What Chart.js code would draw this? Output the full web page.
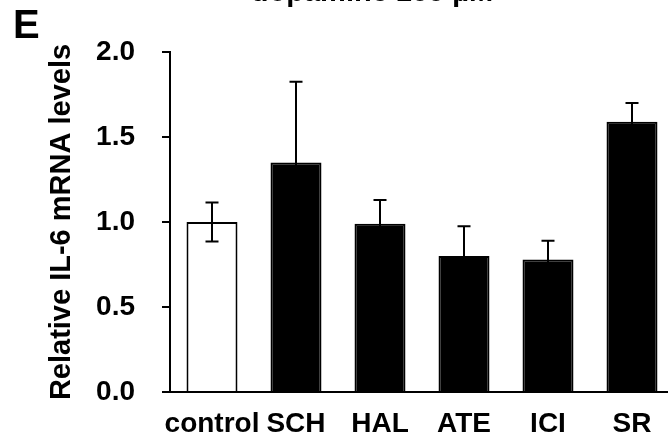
<!DOCTYPE html>
<html>
<head>
<meta charset="utf-8">
<script src="https://cdn.jsdelivr.net/npm/chart.js@4"></script>
<style>
  html, body { margin: 0; padding: 0; background: #fff; overflow: hidden; }
  canvas { display: block; }
</style>
</head>
<body>
<canvas id="plot1" width="744" height="446"></canvas>
<script>
const categories = ["control", "SCH", "HAL", "ATE", "ICI", "SR"];
const means = [1.00, 1.35, 0.99, 0.80, 0.78, 1.59];
const errors = [0.115, 0.475, 0.14, 0.175, 0.11, 0.11];
const fills = ["#ffffff", "#000000", "#000000", "#000000", "#000000", "#000000"];
const yTicks = [0, 0.5, 1.0, 1.5, 2.0];

const fontFamily = "'Liberation Sans', Arial, Helvetica, sans-serif";

// error bars drawn on top of the bars
const errorBars = {
    id: "errorBars",
    afterDatasetsDraw(chart) {
        const ctx = chart.ctx;
        const y = chart.scales.y;
        const meta = chart.getDatasetMeta(0);
        ctx.save();
        ctx.strokeStyle = "#000";
        ctx.lineWidth = 2;
        meta.data.forEach((bar, i) => {
            const top = y.getPixelForValue(means[i] + errors[i]);
            const bottom = y.getPixelForValue(means[i] - errors[i]);
            ctx.beginPath();
            ctx.moveTo(bar.x, top);
            ctx.lineTo(bar.x, bottom);
            ctx.moveTo(bar.x - 6.5, top);
            ctx.lineTo(bar.x + 6.5, top);
            ctx.moveTo(bar.x - 6.5, bottom);
            ctx.lineTo(bar.x + 6.5, bottom);
            ctx.stroke();
        });
        ctx.restore();
    }
};

// panel letter and the (cut off) title
const decor = {
    id: "decor",
    afterDraw(chart) {
        const ctx = chart.ctx;
        ctx.save();
        ctx.fillStyle = "#000";
        ctx.textBaseline = "alphabetic";
        ctx.font = "bold 40px " + fontFamily;
        ctx.textAlign = "left";
        ctx.fillText("E", 13, 38);
        ctx.font = "bold 29px " + fontFamily;
        ctx.textAlign = "center";
        ctx.fillText("dopamine 100 µM", 372, 1);
        ctx.restore();
    }
};

const chart = new Chart(document.getElementById("plot1"), {
    type: "bar",
    data: {
        labels: categories,
        datasets: [
            {
                data: means,
                backgroundColor: fills,
                borderColor: "#000",
                borderWidth: 2,
                borderSkipped: "bottom",
                barPercentage: 0.607,
                categoryPercentage: 1.0
            }
        ]
    },
    options: {
        responsive: false,
        animation: false,
        devicePixelRatio: 1,
        layout: {
            padding: { left: 0, top: 52, right: 70, bottom: 0 }
        },
        plugins: {
            legend: { display: false },
            tooltip: { enabled: false }
        },
        scales: {
            x: {
                offset: true,
                grid: { display: false, drawTicks: false, tickLength: 0 },
                border: { display: true, color: "#000", width: 2 },
                ticks: {
                    color: "#000",
                    padding: 15,
                    autoSkip: false,
                    maxRotation: 0,
                    font: { family: fontFamily, size: 28, weight: "bold" }
                },
                afterFit: s => { s.height = 54; }
            },
            y: {
                min: 0,
                max: 2,
                afterBuildTicks: s => { s.ticks = yTicks.map(v => ({ value: v })); },
                grid: {
                    drawOnChartArea: false,
                    color: "#000",
                    lineWidth: 2,
                    tickLength: 8
                },
                border: { display: true, color: "#000", width: 2 },
                ticks: {
                    color: "#000",
                    padding: 27,
                    callback: v => v.toFixed(1),
                    font: { family: fontFamily, size: 28, weight: "bold" }
                },
                title: {
                    display: true,
                    text: "Relative IL-6 mRNA levels",
                    color: "#000",
                    padding: { top: 45, bottom: 0 },
                    font: { family: fontFamily, size: 29, weight: "bold" }
                },
                afterFit: s => { s.width = 170; }
            }
        }
    },
    plugins: [errorBars, decor]
});
</script>
</body>
</html>
